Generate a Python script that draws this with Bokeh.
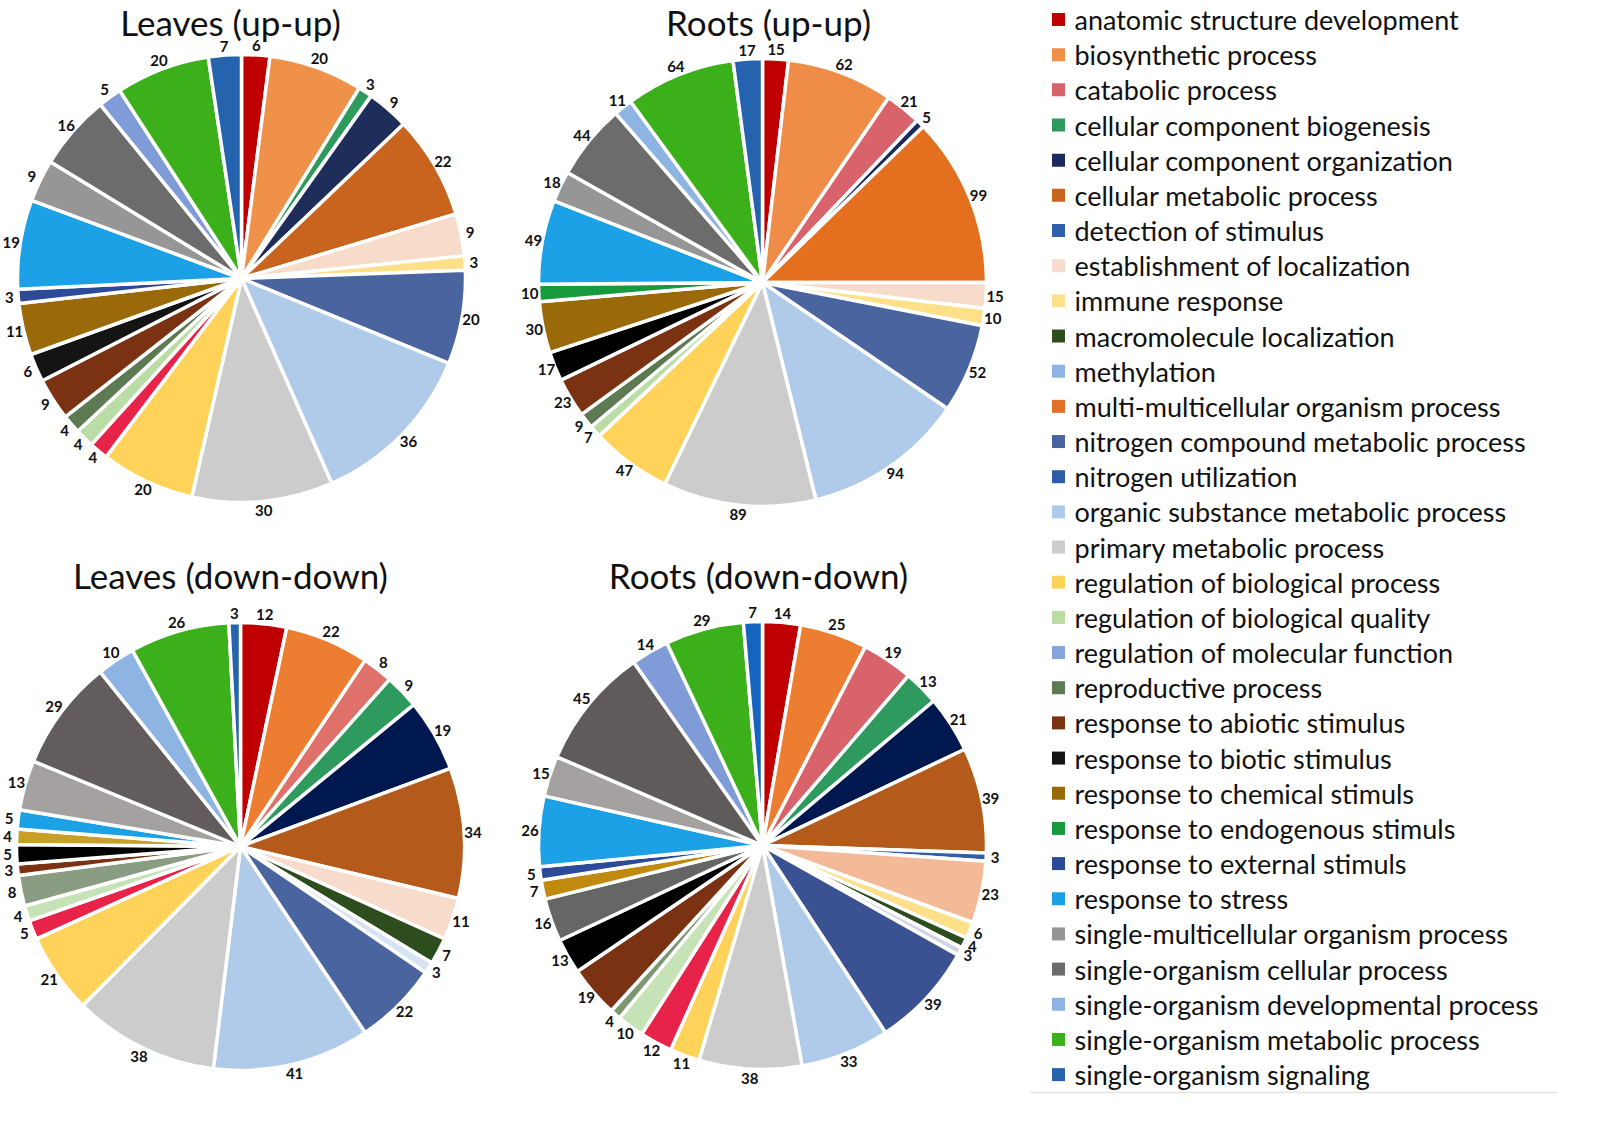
import numpy as np
from bokeh.plotting import figure
from bokeh.models import ColumnDataSource, Range1d
from bokeh.embed import file_html
from bokeh.resources import INLINE
from bokeh.core.properties import value

# ---------------- data ----------------
legend_categories = [
    "anatomic structure development",
    "biosynthetic  process",
    "catabolic process",
    "cellular component biogenesis",
    "cellular component organization",
    "cellular metabolic process",
    "detection of stimulus",
    "establishment of localization",
    "immune response",
    "macromolecule localization",
    "methylation",
    "multi-multicellular organism process",
    "nitrogen compound  metabolic process",
    "nitrogen utilization",
    "organic substance metabolic process",
    "primary metabolic process",
    "regulation of biological process",
    "regulation of biological quality",
    "regulation of molecular function",
    "reproductive process",
    "response to abiotic stimulus",
    "response to biotic stimulus",
    "response to chemical stimuls",
    "response to endogenous stimuls",
    "response to external stimuls",
    "response to stress",
    "single-multicellular organism  process",
    "single-organism cellular process",
    "single-organism developmental process",
    "single-organism metabolic process",
    "single-organism signaling",
]
UNL_RED = "(unlisted red)"
UNL_GRAY = "(unlisted gray)"

leaves_up_cats = [
    "anatomic structure development", "biosynthetic  process", "cellular component biogenesis",
    "cellular component organization", "cellular metabolic process", "establishment of localization",
    "immune response", "nitrogen compound  metabolic process", "organic substance metabolic process",
    "primary metabolic process", "regulation of biological process", UNL_RED,
    "regulation of biological quality", "reproductive process", "response to abiotic stimulus",
    "response to biotic stimulus", "response to chemical stimuls", "response to external stimuls",
    "response to stress", "single-multicellular organism  process", "single-organism cellular process",
    "single-organism developmental process", "single-organism metabolic process", "single-organism signaling",
]
leaves_up_vals = [6, 20, 3, 9, 22, 9, 3, 20, 36, 30, 20, 4, 4, 4, 9, 6, 11, 3, 19, 9, 16, 5, 20, 7]

roots_up_cats = [
    "anatomic structure development", "biosynthetic  process", "catabolic process",
    "cellular component organization", "cellular metabolic process", "establishment of localization",
    "immune response", "nitrogen compound  metabolic process", "organic substance metabolic process",
    "primary metabolic process", "regulation of biological process", "regulation of biological quality",
    "reproductive process", "response to abiotic stimulus", "response to biotic stimulus",
    "response to chemical stimuls", "response to endogenous stimuls", "response to stress",
    "single-multicellular organism  process", "single-organism cellular process",
    "single-organism developmental process", "single-organism metabolic process", "single-organism signaling",
]
roots_up_vals = [15, 62, 21, 5, 99, 15, 10, 52, 94, 89, 47, 7, 9, 23, 17, 30, 10, 49, 18, 44, 11, 64, 17]

leaves_down_cats = [
    "anatomic structure development", "biosynthetic  process", "catabolic process",
    "cellular component biogenesis", "cellular component organization", "cellular metabolic process",
    "establishment of localization", "macromolecule localization", "methylation",
    "nitrogen compound  metabolic process", "organic substance metabolic process", "primary metabolic process",
    "regulation of biological process", UNL_RED, "regulation of biological quality",
    "reproductive process", "response to abiotic stimulus", "response to biotic stimulus",
    "response to chemical stimuls", "response to stress", "single-multicellular organism  process",
    "single-organism cellular process", "single-organism developmental process",
    "single-organism metabolic process", "single-organism signaling",
]
leaves_down_vals = [12, 22, 8, 9, 19, 34, 11, 7, 3, 22, 41, 38, 21, 5, 4, 8, 3, 5, 4, 5, 13, 29, 10, 26, 3]

roots_down_cats = [
    "anatomic structure development", "biosynthetic  process", "catabolic process",
    "cellular component biogenesis", "cellular component organization", "cellular metabolic process",
    "detection of stimulus", "establishment of localization", "immune response",
    "macromolecule localization", "methylation", "nitrogen compound  metabolic process",
    "organic substance metabolic process", "primary metabolic process", "regulation of biological process",
    UNL_RED, "regulation of biological quality", "reproductive process", "response to abiotic stimulus",
    "response to biotic stimulus", UNL_GRAY, "response to chemical stimuls", "response to external stimuls",
    "response to stress", "single-multicellular organism  process", "single-organism cellular process",
    "single-organism developmental process", "single-organism metabolic process", "single-organism signaling",
]
roots_down_vals = [14, 25, 19, 13, 21, 39, 3, 23, 6, 4, 3, 39, 33, 38, 11, 12, 10, 4, 19, 13, 16, 7, 5,
                   26, 15, 45, 14, 29, 7]

pie_titles = ["Leaves (up-up)", "Roots (up-up)", "Leaves (down-down)", "Roots (down-down)"]

# ---------------- styles ----------------
base_colors = {
    "anatomic structure development": "#C00000",
    "biosynthetic  process": "#F0914A",
    "catabolic process": "#D9636B",
    "cellular component biogenesis": "#2E9A5E",
    "cellular component organization": "#1B2A5C",
    "cellular metabolic process": "#C8641E",
    "detection of stimulus": "#2E5FA8",
    "establishment of localization": "#F7DCCB",
    "immune response": "#FFE08A",
    "macromolecule localization": "#2E4D1E",
    "methylation": "#8DB4E2",
    "multi-multicellular organism process": "#E0702A",
    "nitrogen compound  metabolic process": "#4A64A0",
    "nitrogen utilization": "#2E5CA8",
    "organic substance metabolic process": "#AFCBE9",
    "primary metabolic process": "#CCCCCC",
    "regulation of biological process": "#FFD35A",
    "regulation of biological quality": "#B9DDA5",
    "regulation of molecular function": "#86A3DC",
    "reproductive process": "#5E7A52",
    "response to abiotic stimulus": "#7A3212",
    "response to biotic stimulus": "#141414",
    "response to chemical stimuls": "#9A6A0A",
    "response to endogenous stimuls": "#17993E",
    "response to external stimuls": "#2C4A98",
    "response to stress": "#1CA0E6",
    "single-multicellular organism  process": "#969696",
    "single-organism cellular process": "#6C6C6C",
    "single-organism developmental process": "#8DB4E2",
    "single-organism metabolic process": "#3BB01A",
    "single-organism signaling": "#2563AE",
    UNL_RED: "#E8234A",
    UNL_GRAY: "#666666",
}
overrides = [
    {"single-organism developmental process": "#7F9CD8", "cellular component organization": "#1F2D5A"},
    {"cellular metabolic process": "#E4701F", "biosynthetic  process": "#EF8C48", "response to biotic stimulus": "#000000"},
    {"biosynthetic  process": "#ED7D31", "cellular component organization": "#001850",
     "cellular metabolic process": "#B45A1A", "methylation": "#D5E3F4", "reproductive process": "#8A9C82",
     "single-organism cellular process": "#625C5C", "single-multicellular organism  process": "#A5A1A1",
     "regulation of biological quality": "#C5E3B6", "catabolic process": "#E0716A",
     "response to chemical stimuls": "#C8A028", "response to biotic stimulus": "#000000"},
    {"biosynthetic  process": "#ED7D31", "cellular component organization": "#001850",
     "cellular metabolic process": "#B45A1A", "establishment of localization": "#F4B996",
     "nitrogen compound  metabolic process": "#3A5292", "methylation": "#D0D2E6",
     "single-organism cellular process": "#5F5B5B", "single-multicellular organism  process": "#A5A1A1",
     "single-organism developmental process": "#7F9CD8",
     "single-organism signaling": "#1565BE", "response to chemical stimuls": "#C08A10",
     "regulation of biological quality": "#C5E3B6", "reproductive process": "#7E9672",
     "response to biotic stimulus": "#000000"},
]

# pixel geometry (image pixel coordinates)
centers = [(249, 286), (770, 290), (248, 854), (770, 853)]
radius = 224
title_pos = [(238, 29), (776, 29), (238, 582), (766, 582)]
FONT = "Lato"

W, H = 1584, 1112
p = figure(width=W, height=H, output_backend="svg", toolbar_location=None,
           x_range=Range1d(8, 8 + W), y_range=Range1d(-(8 + H), -8),
           x_axis_location=None, y_axis_location=None, min_border=0,
           outline_line_color=None, background_fill_color="white")
p.grid.visible = False

all_cats = [leaves_up_cats, roots_up_cats, leaves_down_cats, roots_down_cats]
all_vals = [leaves_up_vals, roots_up_vals, leaves_down_vals, roots_down_vals]

for k in range(4):
    cats = all_cats[k]
    vals = np.array(all_vals[k], dtype=float)
    frac = np.cumsum(vals) / vals.sum()
    before = np.concatenate([[0.0], frac[:-1]])
    start = np.pi / 2 - 2 * np.pi * before
    end = np.pi / 2 - 2 * np.pi * frac
    mid = (start + end) / 2
    cx, cy = centers[k]
    cols = [overrides[k].get(c, base_colors[c]) for c in cats]
    src = ColumnDataSource(dict(x=[cx] * len(cats), y=[-cy] * len(cats), start=start, end=end,
                                color=cols, cat=cats))
    p.wedge(x="x", y="y", radius=radius, start_angle="start", end_angle="end",
            direction="clock", fill_color="color", line_color="white", line_width=3.5, source=src)
    lr = radius + 9
    lsrc = ColumnDataSource(dict(x=cx + lr * np.cos(mid), y=-cy + lr * np.sin(mid),
                                 t=[str(int(v)) for v in vals]))
    p.text(x="x", y="y", text="t", source=lsrc, text_align="center", text_baseline="middle",
           text_font=value(FONT), text_font_style="bold", text_font_size="15px", text_color="#111111")
    tx, ty = title_pos[k]
    p.text(x=[tx], y=[-ty], text=[pie_titles[k]], text_align="center", text_baseline="middle",
           text_font=value(FONT), text_font_size="35px", text_color="#111111")

# legend
leg_y0, leg_dy = 27, 35.17
ly = [-(leg_y0 + i * leg_dy) for i in range(len(legend_categories))]
leg_src = ColumnDataSource(dict(x=[1066] * len(legend_categories), tx=[1082] * len(legend_categories),
                                y=ly, t=legend_categories,
                                color=[base_colors[c] for c in legend_categories]))
p.rect(x="x", y="y", width=13, height=13, fill_color="color", line_color=None, source=leg_src)
p.text(x="tx", y="y", text="t", source=leg_src, text_align="left", text_baseline="middle",
       text_font=value(FONT), text_font_size="27px", text_color="#111111")
p.segment(x0=[1038], y0=[-1100], x1=[1565], y1=[-1100], line_color="#E4E4E4", line_width=1.5)

open("out.html", "w").write(file_html(p, INLINE))
